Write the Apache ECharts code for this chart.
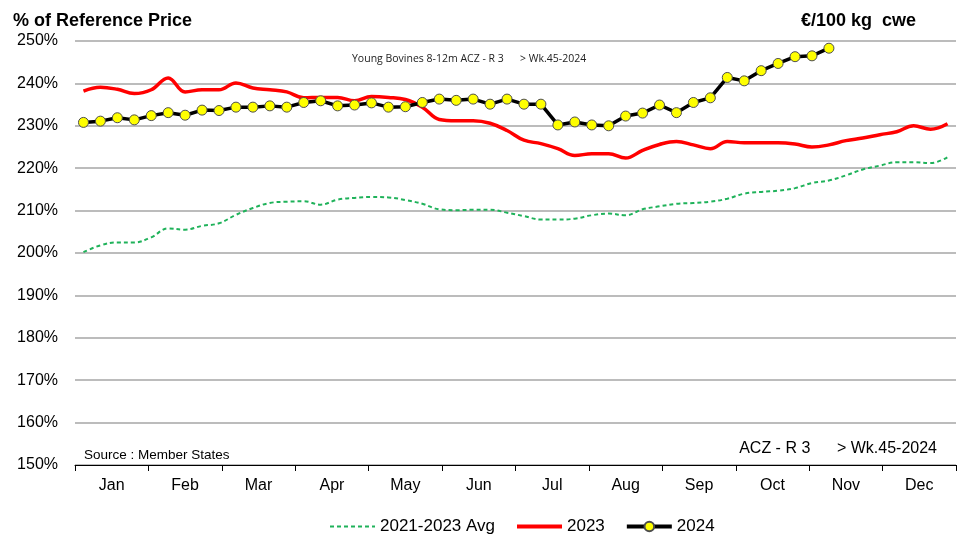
<!DOCTYPE html>
<html>
<head>
<meta charset="utf-8">
<script src="https://cdn.jsdelivr.net/npm/echarts@6/dist/echarts.min.js"></script>
<style>
  html, body { margin: 0; padding: 0; background: #fff; }
  #chart { width: 961px; height: 548px; }
</style>
</head>
<body>
<div id="chart"></div>
<script>
// weekly categories (weeks 1..52) and month labels
const weeks = Array.from({ length: 52 }, (_, i) => 'W' + (i + 1))
const months = ['Jan', 'Feb', 'Mar', 'Apr', 'May', 'Jun', 'Jul', 'Aug', 'Sep', 'Oct', 'Nov', 'Dec']

// % of reference price
const avg2123 = [
  200.2, 201.8, 202.5, 202.5, 203.7, 205.8, 205.5, 206.4, 207.0, 209.0,
  210.6, 211.8, 212.1, 212.2, 211.4, 212.6, 213.0, 213.2, 213.1, 212.5,
  211.6, 210.3, 210.1, 210.2, 210.2, 209.5, 208.7, 207.9, 207.9, 208.1,
  208.9, 209.3, 208.9, 210.3, 211.0, 211.6, 211.8, 212.1, 212.8, 214.0,
  214.4, 214.7, 215.3, 216.5, 217.1, 218.3, 219.7, 220.6, 221.4, 221.4,
  221.2, 222.6
]
const y2023 = [
  238.2, 239.1, 238.6, 237.6, 238.5, 241.3, 238.0, 238.5, 238.5, 240.1,
  238.9, 238.5, 238.0, 236.6, 236.7, 236.7, 235.9, 236.9, 236.7, 236.2,
  234.4, 231.5, 231.2, 231.2, 230.6, 228.9, 226.6, 225.8, 224.6, 223.0,
  223.4, 223.4, 222.4, 224.2, 225.6, 226.3, 225.5, 224.6, 226.3, 226.0,
  226.0, 226.0, 225.7, 225.0, 225.5, 226.5, 227.1, 227.9, 228.6, 230.0,
  229.2, 230.5
]
const y2024 = [
  230.8, 231.1, 231.9, 231.4, 232.4, 233.1, 232.5, 233.7, 233.6, 234.4,
  234.4, 234.7, 234.4, 235.5, 235.9, 234.7, 234.9, 235.4, 234.4, 234.5,
  235.5, 236.3, 236.0, 236.3, 235.1, 236.3, 235.1, 235.1, 230.2, 230.9,
  230.2, 230.0, 232.3, 233.0, 234.9, 233.1, 235.5, 236.6, 241.4, 240.6,
  243.0, 244.7, 246.3, 246.5, 248.3
]

const sans = '"Liberation Sans", Arial, sans-serif'

const chart = echarts.init(document.getElementById('chart'))

chart.setOption({
  backgroundColor: '#fff',
  animation: false,
  title: [
    {
      text: '% of Reference Price',
      left: 8, top: 7,
      textStyle: { fontFamily: sans, fontSize: 18, fontWeight: 'bold', color: '#000' }
    },
    {
      text: '€/100 kg  cwe',
      right: 40, top: 7,
      textStyle: { fontFamily: sans, fontSize: 18, fontWeight: 'bold', color: '#000' }
    },
    {
      text: 'Young Bovines 8-12m ACZ - R 3      > Wk.45-2024',
      left: 347, top: 49,
      textStyle: { fontFamily: '"Open Sans", sans-serif', fontSize: 10.5, fontWeight: 'normal', color: '#222' }
    },
    {
      text: 'Source : Member States',
      left: 79, top: 443,
      textStyle: { fontFamily: sans, fontSize: 13.5, fontWeight: 'normal', color: '#000' }
    },
    {
      text: 'ACZ - R 3      > Wk.45-2024',
      right: 19, top: 436,
      textStyle: { fontFamily: sans, fontSize: 16, fontWeight: 'normal', color: '#000' }
    }
  ],
  grid: { left: 75, right: 5, top: 41, bottom: 83, containLabel: false },
  legend: {
    bottom: 8,
    left: 324,
    itemWidth: 45,
    itemHeight: 12,
    itemGap: 20,
    textStyle: { fontFamily: sans, fontSize: 17, color: '#000' },
    data: [
      { name: '2021-2023 Avg', itemStyle: { opacity: 0 }, lineStyle: { width: 2 } },
      { name: '2023', itemStyle: { opacity: 0 }, lineStyle: { width: 4 } },
      { name: '2024', lineStyle: { width: 4 } }
    ]
  },
  xAxis: [
    {
      type: 'category',
      data: weeks,
      boundaryGap: true,
      show: false
    },
    {
      type: 'category',
      data: months,
      position: 'bottom',
      boundaryGap: true,
      axisLine: { lineStyle: { color: '#000', width: 1 } },
      axisTick: { show: true, length: 6, lineStyle: { color: '#000' } },
      axisLabel: { fontFamily: sans, fontSize: 16, color: '#000', margin: 13 },
      splitLine: { show: false }
    }
  ],
  yAxis: {
    type: 'value',
    min: 150,
    max: 250,
    interval: 10,
    axisLine: { show: false },
    axisTick: { show: false },
    axisLabel: { formatter: '{value}%', fontFamily: sans, fontSize: 16, color: '#000', margin: 17 },
    splitLine: { lineStyle: { color: '#a6a6a6', width: 1.5 } }
  },
  series: [
    {
      name: '2021-2023 Avg',
      type: 'line',
      xAxisIndex: 0,
      data: avg2123,
      smooth: 0.4,
      symbol: 'none',
      lineStyle: { color: '#1fb25a', width: 2, type: [4, 3] },
      itemStyle: { color: '#1fb25a' },
      z: 2
    },
    {
      name: '2023',
      type: 'line',
      xAxisIndex: 0,
      data: y2023,
      smooth: 0.4,
      symbol: 'none',
      lineStyle: { color: '#ff0000', width: 3.5 },
      itemStyle: { color: '#ff0000' },
      z: 3
    },
    {
      name: '2024',
      type: 'line',
      xAxisIndex: 0,
      data: y2024,
      symbol: 'circle',
      symbolSize: 10,
      lineStyle: { color: '#000', width: 3.5 },
      itemStyle: { color: '#ffff00', borderColor: '#4d4d4d', borderWidth: 1 },
      z: 4
    }
  ]
})
</script>
</body>
</html>
